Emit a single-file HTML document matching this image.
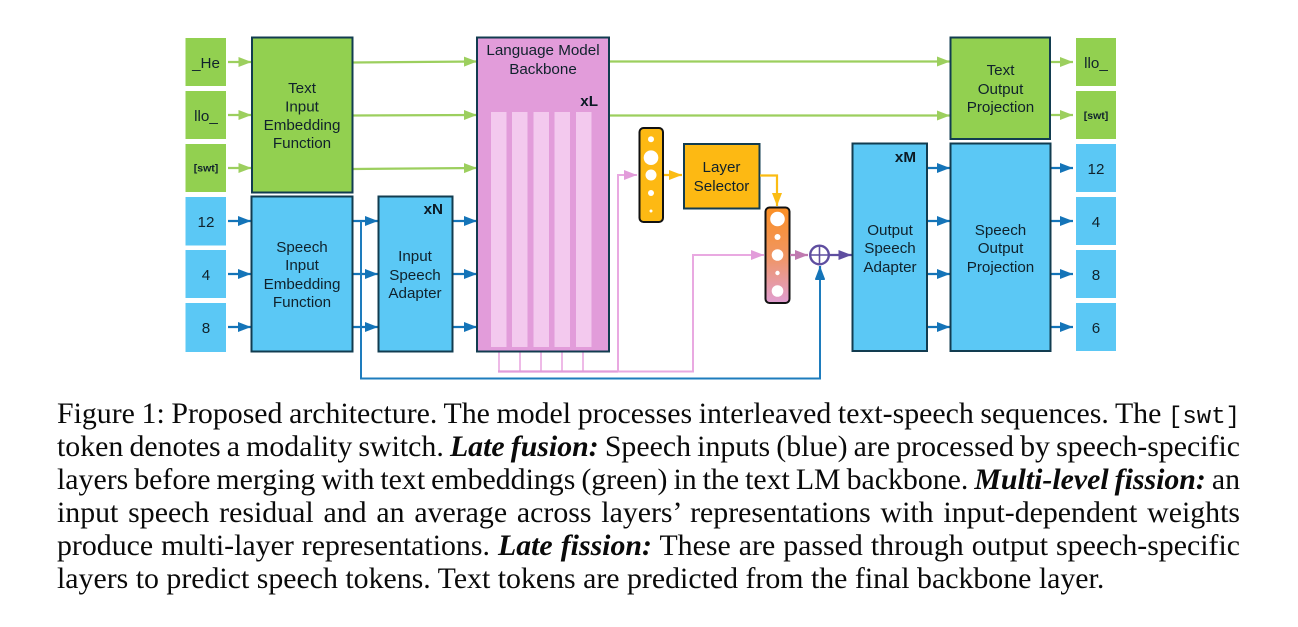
<!DOCTYPE html>
<html>
<head>
<meta charset="utf-8">
<style>
html,body{margin:0;padding:0;background:#fff;width:1298px;height:627px;overflow:hidden}
#s{position:absolute;left:0;top:0}
#s text{font-family:"Liberation Sans",sans-serif;font-size:15.2px;fill:#10222c;text-anchor:middle}
#s text.b{font-weight:bold;fill:#0b1a24;text-anchor:end}
#s text.sw{font-weight:bold;font-size:10.5px}
.box{stroke:#123c50;stroke-width:2}
.g{fill:#92d050}.u{fill:#5bc8f5}
.lg{stroke:#9ccf5e;stroke-width:2.2;fill:none;marker-end:url(#mg)}
.lb{stroke:#1474b8;stroke-width:2.2;fill:none;marker-end:url(#mb)}
.l{position:absolute;left:57px;width:1183px;height:33px;line-height:33px;font-family:"Liberation Serif",serif;font-size:29.85px;color:#0a0a0a;text-align:justify;text-align-last:justify;white-space:nowrap;word-spacing:-1.5px}
.l b{font-style:italic}
.l code{font-family:"Liberation Mono",monospace;font-size:24px}
</style>
</head>
<body>
<svg id="s" width="1298" height="627" viewBox="0 0 1298 627" xmlns="http://www.w3.org/2000/svg">
<defs>
<marker id="mg" markerUnits="userSpaceOnUse" markerWidth="13" markerHeight="11" refX="13" refY="5.5" orient="auto"><polygon points="0,0.5 13,5.5 0,10.5" fill="#9ccf5e"/></marker>
<marker id="mb" markerUnits="userSpaceOnUse" markerWidth="13" markerHeight="11" refX="13" refY="5.5" orient="auto"><polygon points="0,0.5 13,5.5 0,10.5" fill="#1474b8"/></marker>
<marker id="mp" markerUnits="userSpaceOnUse" markerWidth="13" markerHeight="11" refX="13" refY="5.5" orient="auto"><polygon points="0,0.5 13,5.5 0,10.5" fill="#e29cda"/></marker>
<marker id="my" markerUnits="userSpaceOnUse" markerWidth="13" markerHeight="11" refX="13" refY="5.5" orient="auto"><polygon points="0,0.5 13,5.5 0,10.5" fill="#fbbc13"/></marker>
<marker id="mm" markerUnits="userSpaceOnUse" markerWidth="13" markerHeight="11" refX="13" refY="5.5" orient="auto"><polygon points="0,0.5 13,5.5 0,10.5" fill="#c07ab0"/></marker>
<marker id="mv" markerUnits="userSpaceOnUse" markerWidth="13" markerHeight="11" refX="13" refY="5.5" orient="auto"><polygon points="0,0.5 13,5.5 0,10.5" fill="#5f4ea0"/></marker>
<linearGradient id="grad" x1="0" y1="0" x2="0" y2="1"><stop offset="0" stop-color="#fb8f24"/><stop offset="0.5" stop-color="#f09561"/><stop offset="1" stop-color="#e09ed2"/></linearGradient>
</defs>

<!-- left tokens -->
<rect class="g" x="185.5" y="38" width="40.5" height="48"/>
<rect class="g" x="185.5" y="91" width="40.5" height="48"/>
<rect class="g" x="185.5" y="144" width="40.5" height="48"/>
<rect class="u" x="185.5" y="197" width="40.5" height="48.5"/>
<rect class="u" x="185.5" y="250" width="40.5" height="48"/>
<rect class="u" x="185.5" y="303" width="40.5" height="49"/>
<text x="206" y="68">_He</text>
<text x="206" y="121">llo_</text>
<text x="206" y="171.500" class="sw">[swt]</text>
<text x="206" y="227">12</text>
<text x="206" y="280">4</text>
<text x="206" y="333">8</text>

<!-- right tokens -->
<rect class="g" x="1076" y="38" width="40" height="48"/>
<rect class="g" x="1076" y="91" width="40" height="48"/>
<rect class="u" x="1076" y="144" width="40" height="48"/>
<rect class="u" x="1076" y="197" width="40" height="48"/>
<rect class="u" x="1076" y="250" width="40" height="48"/>
<rect class="u" x="1076" y="303" width="40" height="48"/>
<text x="1096" y="68">llo_</text>
<text x="1096" y="119" class="sw">[swt]</text>
<text x="1096" y="174">12</text>
<text x="1096" y="227">4</text>
<text x="1096" y="280">8</text>
<text x="1096" y="333">6</text>

<!-- arrows left -->
<path class="lg" d="M228 62H251.500"/>
<path class="lg" d="M228 115H251.500"/>
<path class="lg" d="M228 168H251.500"/>
<path class="lb" d="M228 221H251"/>
<path class="lb" d="M228 274H251"/>
<path class="lb" d="M228 327H251"/>
<path class="lg" d="M353 62.500L477 61.500"/>
<path class="lg" d="M353 115.500L477 115"/>
<path class="lg" d="M353 169L477 168"/>
<path class="lb" d="M353 221H378"/>
<path class="lb" d="M353 274H378"/>
<path class="lb" d="M353 327H378"/>
<path class="lb" d="M453 221H477"/>
<path class="lb" d="M453 274H477"/>
<path class="lb" d="M453 327H477"/>
<path class="lg" d="M609 61.500H950"/>
<path class="lg" d="M609 115.500H950"/>
<path class="lb" d="M928 168H950"/>
<path class="lb" d="M928 221H950"/>
<path class="lb" d="M928 274H950"/>
<path class="lb" d="M928 327H950"/>
<path class="lg" d="M1051 62H1073"/>
<path class="lg" d="M1051 115H1073"/>
<path class="lb" d="M1051 168H1073"/>
<path class="lb" d="M1051 221H1073"/>
<path class="lb" d="M1051 274H1073"/>
<path class="lb" d="M1051 327H1073"/>

<!-- pink bus -->
<path d="M499 351V371.500M520 351V371.500M541 351V371.500M562 351V371.500M583 351V371.500" stroke="#e9a9e1" stroke-width="1.600" fill="none"/>
<path d="M498 371.500H618" stroke="#e29cda" stroke-width="2.200" fill="none"/>
<path d="M618 371.500V175H637" stroke="#e9a9e1" stroke-width="2" fill="none" marker-end="url(#mp)"/>
<path d="M618 371.500H693V255H764" stroke="#e9a9e1" stroke-width="2" fill="none" marker-end="url(#mp)"/>

<!-- blue residual -->
<path d="M361 221V378.500H820V267" stroke="#1e7cbd" stroke-width="2" fill="none" marker-end="url(#mb)"/>

<!-- boxes -->
<rect class="box g" x="252" y="37.500" width="100.500" height="155"/>
<text x="302" y="93">Text</text><text x="302" y="111.500">Input</text><text x="302" y="130">Embedding</text><text x="302" y="148">Function</text>

<rect class="box u" x="251.500" y="196.500" width="101" height="155"/>
<text x="302" y="252">Speech</text><text x="302" y="270">Input</text><text x="302" y="289">Embedding</text><text x="302" y="307">Function</text>

<rect class="box u" x="378.500" y="196.500" width="74" height="155"/>
<text class="b" x="443" y="214">xN</text>
<text x="415" y="261">Input</text><text x="415" y="280">Speech</text><text x="415" y="298">Adapter</text>

<rect x="477" y="37.500" width="132" height="314" fill="#e29cda" stroke="#123c50" stroke-width="2"/>
<g fill="#f3c9ee">
<rect x="491" y="112" width="15.500" height="235"/>
<rect x="512" y="112" width="15.500" height="235"/>
<rect x="533.500" y="112" width="15.500" height="235"/>
<rect x="554.500" y="112" width="15.500" height="235"/>
<rect x="576" y="112" width="15.500" height="235"/>
</g>
<text x="543" y="55">Language Model</text><text x="543" y="74">Backbone</text>
<text class="b" x="598" y="106">xL</text>

<!-- yellow bar -->
<rect x="639.500" y="128" width="23.500" height="94" rx="4" fill="#fdb913" stroke="#111" stroke-width="2"/>
<g fill="#fff">
<circle cx="651" cy="139.300" r="3"/><circle cx="651" cy="157.700" r="7.300"/><circle cx="651" cy="175" r="5.500"/><circle cx="651" cy="193" r="3"/><circle cx="651" cy="211" r="1.500"/>
</g>
<path d="M664 175H682" stroke="#fbbc13" stroke-width="2.200" fill="none" marker-end="url(#my)"/>
<rect x="684" y="144" width="75.500" height="64.500" fill="#fdb913" stroke="#123c50" stroke-width="2"/>
<text x="721.500" y="172">Layer</text><text x="721.500" y="191">Selector</text>
<path d="M760 175.500H777V206" stroke="#fbbc13" stroke-width="2.200" fill="none" marker-end="url(#my)"/>

<!-- gradient bar -->
<rect x="765.500" y="207.500" width="24" height="95.500" rx="4" fill="url(#grad)" stroke="#111" stroke-width="2"/>
<g fill="#fff">
<circle cx="777.500" cy="219" r="7.300"/><circle cx="777.500" cy="237" r="3"/><circle cx="777.500" cy="255" r="5.800"/><circle cx="777.500" cy="273" r="2.200"/><circle cx="777.500" cy="291" r="5.800"/>
</g>

<!-- sum -->
<path d="M790 255H808" stroke="#c07ab0" stroke-width="2.200" fill="none" marker-end="url(#mm)"/>
<circle cx="819.500" cy="255" r="9.300" fill="none" stroke="#5f4ea0" stroke-width="2.400"/>
<path d="M810 255H829M819.500 246V264.500" stroke="#5f4ea0" stroke-width="1.600" fill="none"/>
<path d="M829 255H851.500" stroke="#5f4ea0" stroke-width="2.200" fill="none" marker-end="url(#mv)"/>
<path d="M820 278V266" stroke="#1474b8" stroke-width="2.200" fill="none" marker-end="url(#mb)"/>

<!-- right boxes -->
<rect class="box u" x="852.500" y="143.500" width="74.500" height="207.500"/>
<text class="b" x="916" y="162">xM</text>
<text x="890" y="235">Output</text><text x="890" y="253">Speech</text><text x="890" y="272">Adapter</text>

<rect class="box g" x="950.500" y="37.500" width="99.500" height="101.500"/>
<text x="1000.500" y="75">Text</text><text x="1000.500" y="94">Output</text><text x="1000.500" y="112">Projection</text>

<rect class="box u" x="950.500" y="143.500" width="100" height="207.500"/>
<text x="1000.500" y="235">Speech</text><text x="1000.500" y="253">Output</text><text x="1000.500" y="272">Projection</text>
</svg>

<div class="l" style="top:396.500px">Figure 1: Proposed architecture. The model processes interleaved text-speech sequences. The <code>[swt]</code></div>
<div class="l" style="top:429.500px">token denotes a modality switch. <b>Late fusion:</b> Speech inputs (blue) are processed by speech-specific</div>
<div class="l" style="top:462.500px">layers before merging with text embeddings (green) in the text LM backbone. <b>Multi-level fission:</b> an</div>
<div class="l" style="top:495.500px">input speech residual and an average across layers’ representations with input-dependent weights</div>
<div class="l" style="top:528.500px">produce multi-layer representations. <b>Late fission:</b> These are passed through output speech-specific</div>
<div class="l" style="top:561.500px;text-align-last:left;word-spacing:0">layers to predict speech tokens. Text tokens are predicted from the final backbone layer.</div>
</body>
</html>
